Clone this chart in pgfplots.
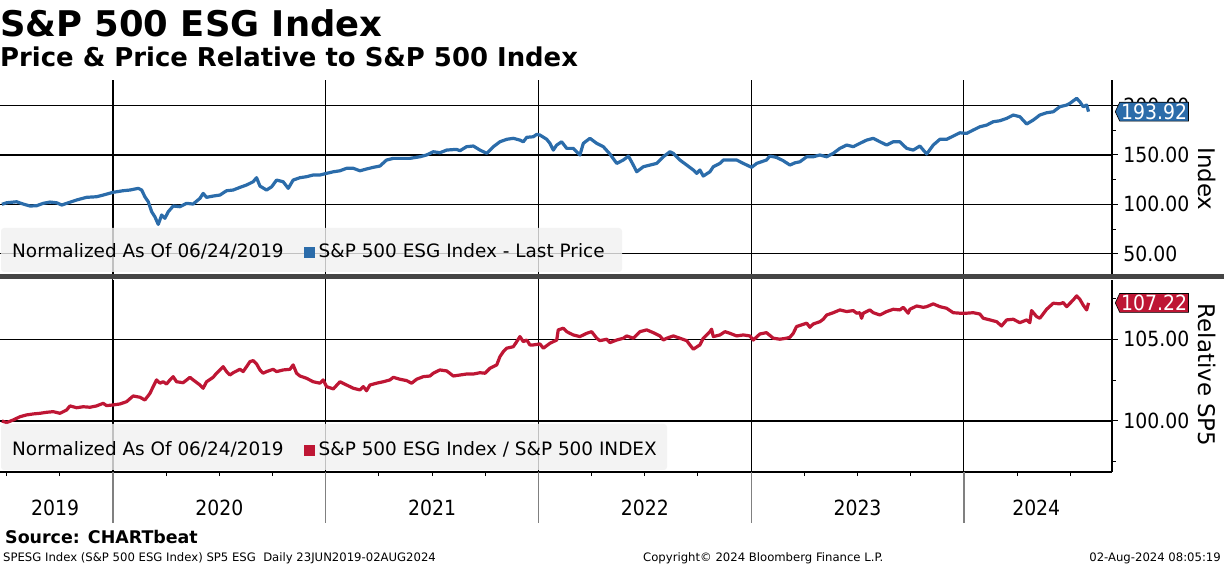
\documentclass[border=0pt]{standalone}
\usepackage{pgfplots}
\pgfplotsset{compat=1.18}
\usepackage{fontspec}
\setmainfont{DejaVu Sans}
\newfontfamily\condfont{DejaVu Sans Condensed}
\usetikzlibrary{shapes.symbols}

\definecolor{bbblue}{RGB}{43,108,170}
\definecolor{bbred}{RGB}{190,22,52}
\definecolor{legbg}{RGB}{240,240,240}

\pgfplotstableread{
t v
2019.478 100.0
2019.500 101.6
2019.547 102.6
2019.578 100.3
2019.610 98.3
2019.641 98.6
2019.672 101.0
2019.704 102.3
2019.735 101.6
2019.759 99.3
2019.782 101.0
2019.829 104.4
2019.876 107.1
2019.923 107.7
2019.954 109.4
2020.001 112.2
2020.048 113.8
2020.080 114.5
2020.119 116.2
2020.135 114.5
2020.150 107.7
2020.166 102.6
2020.182 92.5
2020.197 87.4
2020.213 79.7
2020.229 89.2
2020.244 85.8
2020.260 92.5
2020.283 98.3
2020.315 97.6
2020.346 101.0
2020.377 100.3
2020.409 106.1
2020.424 111.1
2020.440 107.1
2020.471 108.4
2020.503 109.4
2020.534 113.8
2020.565 114.5
2020.597 117.2
2020.628 119.6
2020.659 122.9
2020.675 127.0
2020.691 118.5
2020.722 114.5
2020.746 117.8
2020.769 124.6
2020.800 122.9
2020.824 116.2
2020.847 124.6
2020.879 127.0
2020.910 128.0
2020.941 129.7
2020.973 129.7
2021.004 131.4
2021.036 133.0
2021.067 134.0
2021.098 136.5
2021.130 136.5
2021.161 134.0
2021.192 135.8
2021.224 137.5
2021.255 138.8
2021.286 144.9
2021.318 146.6
2021.349 146.6
2021.396 146.6
2021.443 148.2
2021.474 150.0
2021.506 153.3
2021.537 152.3
2021.569 155.0
2021.615 155.7
2021.631 154.3
2021.662 158.4
2021.694 159.1
2021.725 155.0
2021.757 151.7
2021.788 158.4
2021.819 163.4
2021.851 165.9
2021.882 166.9
2021.913 165.1
2021.929 163.4
2021.945 167.9
2021.976 168.5
2021.992 170.9
2022.007 170.2
2022.039 165.9
2022.054 161.8
2022.070 155.0
2022.086 160.1
2022.109 163.4
2022.133 156.7
2022.164 156.7
2022.195 150.0
2022.211 161.8
2022.242 166.9
2022.274 161.8
2022.305 158.4
2022.336 151.0
2022.368 141.5
2022.399 144.9
2022.423 148.9
2022.446 139.8
2022.462 133.0
2022.493 138.1
2022.524 139.8
2022.556 141.5
2022.587 148.2
2022.618 153.3
2022.634 151.7
2022.665 144.9
2022.697 139.8
2022.728 134.8
2022.744 131.4
2022.759 134.8
2022.775 128.7
2022.806 133.0
2022.822 138.1
2022.853 141.5
2022.869 144.9
2022.900 144.9
2022.932 144.9
2022.963 141.5
2023.002 137.5
2023.026 141.5
2023.072 144.9
2023.088 148.9
2023.119 147.6
2023.151 144.2
2023.182 139.8
2023.206 142.1
2023.229 143.1
2023.261 148.2
2023.292 148.2
2023.323 150.0
2023.355 148.2
2023.386 151.7
2023.417 156.7
2023.449 160.1
2023.480 158.4
2023.511 161.8
2023.543 165.1
2023.574 166.9
2023.605 163.4
2023.637 160.1
2023.668 163.4
2023.699 163.4
2023.731 156.7
2023.762 155.0
2023.793 159.1
2023.825 151.0
2023.856 160.1
2023.887 165.9
2023.919 165.9
2023.950 169.2
2023.981 172.5
2024.013 171.9
2024.044 175.3
2024.075 178.6
2024.107 180.3
2024.138 183.7
2024.169 184.7
2024.201 187.1
2024.232 190.5
2024.263 188.8
2024.295 181.4
2024.326 185.4
2024.357 190.5
2024.389 192.8
2024.420 193.8
2024.451 198.9
2024.483 200.6
2024.498 202.3
2024.530 207.4
2024.545 204.0
2024.561 198.9
2024.577 200.6
2024.586 193.92
}\esgprice

\pgfplotstableread{
t v
2019.478 100.00
2019.500 99.90
2019.531 100.06
2019.563 100.26
2019.594 100.37
2019.625 100.43
2019.657 100.47
2019.688 100.53
2019.719 100.57
2019.751 100.47
2019.782 100.67
2019.798 100.92
2019.829 100.81
2019.860 100.87
2019.892 100.84
2019.923 100.92
2019.954 101.08
2019.970 100.94
2020.001 100.98
2020.033 101.04
2020.064 101.18
2020.095 101.53
2020.127 101.45
2020.150 101.28
2020.174 101.69
2020.189 102.10
2020.205 102.51
2020.221 102.31
2020.236 102.40
2020.252 102.26
2020.268 102.51
2020.283 102.71
2020.299 102.40
2020.330 102.34
2020.362 102.67
2020.377 102.51
2020.409 102.20
2020.424 102.00
2020.440 102.40
2020.471 102.67
2020.487 102.92
2020.503 103.12
2020.518 103.32
2020.534 103.02
2020.550 102.81
2020.565 102.95
2020.597 103.16
2020.612 103.02
2020.628 103.32
2020.644 103.63
2020.659 103.69
2020.675 103.49
2020.691 103.12
2020.706 102.92
2020.722 103.02
2020.753 103.16
2020.769 103.02
2020.800 103.12
2020.832 103.16
2020.847 103.43
2020.863 102.92
2020.879 102.75
2020.910 102.61
2020.941 102.40
2020.973 102.31
2020.988 102.51
2021.004 102.10
2021.036 101.96
2021.067 102.40
2021.098 102.20
2021.130 102.00
2021.161 101.90
2021.177 102.10
2021.192 101.85
2021.208 102.20
2021.239 102.31
2021.271 102.40
2021.302 102.51
2021.318 102.67
2021.349 102.55
2021.380 102.47
2021.404 102.31
2021.427 102.55
2021.459 102.71
2021.490 102.75
2021.506 102.92
2021.537 103.12
2021.569 103.06
2021.600 102.75
2021.631 102.81
2021.662 102.87
2021.694 102.87
2021.725 102.95
2021.749 102.92
2021.772 103.22
2021.804 103.43
2021.819 103.93
2021.835 104.24
2021.851 104.45
2021.882 104.54
2021.898 104.85
2021.913 105.16
2021.929 104.85
2021.945 104.95
2021.960 104.65
2021.976 104.65
2022.007 104.71
2022.023 104.45
2022.054 104.75
2022.086 104.95
2022.093 105.57
2022.117 105.67
2022.133 105.46
2022.148 105.36
2022.164 105.26
2022.195 105.16
2022.227 105.36
2022.250 105.46
2022.274 105.06
2022.289 104.91
2022.321 105.00
2022.336 104.79
2022.368 104.95
2022.399 105.06
2022.415 105.20
2022.446 105.06
2022.477 105.46
2022.509 105.57
2022.540 105.40
2022.571 105.20
2022.587 104.95
2022.603 105.06
2022.634 105.20
2022.665 105.06
2022.697 104.91
2022.712 104.65
2022.728 104.39
2022.759 104.65
2022.775 105.06
2022.806 105.46
2022.814 105.61
2022.822 105.16
2022.853 105.26
2022.877 105.46
2022.900 105.36
2022.932 105.20
2022.963 105.26
2022.994 105.20
2023.010 104.95
2023.041 105.32
2023.072 105.40
2023.104 105.06
2023.135 105.00
2023.166 105.06
2023.182 105.12
2023.198 105.36
2023.213 105.77
2023.229 105.84
2023.261 105.98
2023.276 105.73
2023.292 105.93
2023.323 106.07
2023.339 106.22
2023.355 106.48
2023.386 106.62
2023.417 106.79
2023.449 106.69
2023.480 106.75
2023.496 106.59
2023.511 106.62
2023.519 106.28
2023.527 106.59
2023.558 106.79
2023.574 106.62
2023.605 106.48
2023.637 106.69
2023.668 106.83
2023.699 106.79
2023.715 106.95
2023.738 106.59
2023.746 106.83
2023.778 107.03
2023.809 106.95
2023.825 106.99
2023.856 107.16
2023.887 106.99
2023.919 106.89
2023.950 106.62
2023.981 106.59
2024.013 106.59
2024.044 106.62
2024.075 106.54
2024.091 106.28
2024.122 106.18
2024.154 106.07
2024.177 105.81
2024.201 106.18
2024.232 106.22
2024.263 106.01
2024.295 106.18
2024.310 106.01
2024.318 106.75
2024.342 106.38
2024.357 106.28
2024.389 106.83
2024.420 107.20
2024.451 107.16
2024.467 107.24
2024.483 106.99
2024.514 107.40
2024.530 107.65
2024.545 107.44
2024.561 107.08
2024.577 106.79
2024.586 107.22
}\esgrel

\pgfplotsset{
  panel/.style={
    scale only axis, width=1112bp,
    xmin=2019.469, xmax=2024.696,
    axis y line*=right,
    axis x line*=bottom,
    axis line style={line width=1.3bp},
    tick align=outside,
    major tick length=6bp, minor tick length=4bp,
    every tick/.style={black, line width=1bp},
    ymajorgrids,
    major grid style={black, line width=1.1bp},
    yticklabel style={font=\condfont\fontsize{21}{25}\selectfont, xshift=2bp,
      /pgf/number format/.cd, fixed, fixed zerofill, precision=2, assume math mode=true},
    clip=false,
  },
  yearlines/.style={
    xtick={2020,2021,2022,2023,2024},
    xmajorgrids,
  },
}

\begin{document}
\begin{tikzpicture}
\useasboundingbox (0,0) rectangle (1224bp,566bp);

% titles
\node[anchor=base west, inner sep=0, font=\fontsize{35.5}{40}\selectfont\bfseries] at (0bp,529bp) {S\&P 500 ESG Index};
\node[anchor=base west, inner sep=0, font=\fontsize{26}{30}\selectfont\bfseries] at (0bp,499bp) {Price \& Price Relative to S\&P 500 Index};

% year lines of the top panel, under its curve
\foreach \xx in {113,325.7,538.4,751.2,963.9}
  \draw[black, line width=1.1bp] (\xx bp,291bp) -- (\xx bp,486bp);

% top panel (its bottom edge is hidden under the separator bar)
\begin{axis}[panel, yearlines,
  at={(0bp,291bp)}, anchor=south west, height=195bp,
  ymin=28.4, ymax=226,
  ytick={50,100,150,200}, minor ytick={75,125,175},
  xticklabels={},
  ]
\addplot[bbblue, line width=3.2bp, line join=round] table[x=t, y=v] {\esgprice};
\node[signal, signal to=west, signal pointer angle=130, fill=bbblue, draw=black, line width=0.6bp,
  text=white, font=\condfont\fontsize{21}{25}\selectfont, inner sep=1.5bp, anchor=west]
  at (axis cs:2024.696,193.92) [xshift=3bp] {193.92};
\end{axis}

% bottom panel
\begin{axis}[panel, yearlines,
  at={(0bp,94bp)}, anchor=south west, height=192bp,
  ymin=96.88, ymax=108.62,
  ytick={100,105}, minor ytick={97.5,102.5,107.5},
  xticklabels={},
  minor xtick={2019.5,2019.75,2020.25,2020.5,2020.75,2021.25,2021.5,2021.75,2022.25,2022.5,2022.75,2023.25,2023.5,2023.75,2024.25,2024.5},
  extra x ticks={2019.728,2020.5,2021.5,2022.5,2023.5,2024.34},
  extra x tick labels={2019,2020,2021,2022,2023,2024},
  extra x tick style={grid=none, major tick length=0pt,
    xticklabel style={font=\condfont\fontsize{21}{25}\selectfont, yshift=-24bp}},
  ]
\addplot[bbred, line width=3.2bp, line join=round] table[x=t, y=v] {\esgrel};
\node[signal, signal to=west, signal pointer angle=130, fill=bbred, draw=black, line width=0.6bp,
  text=white, font=\condfont\fontsize{21}{25}\selectfont, inner sep=1.5bp, anchor=west]
  at (axis cs:2024.696,107.22) [xshift=3bp] {107.22};
\end{axis}

% year separators below the axis
\foreach \xx in {113,325.7,538.4,751.2,963.9}
  \draw[black!50, line width=1.2bp] (\xx bp,94bp) -- (\xx bp,43bp);

% panel separator
\fill[black!73] (0bp,286.5bp) rectangle (1224bp,291.5bp);

% legend boxes
\fill[legbg, fill opacity=0.8, rounded corners=3bp] (1bp,294bp) rectangle (622bp,338bp);
\node[anchor=base west, inner sep=0, font=\fontsize{18.5}{22}\selectfont] at (12bp,308bp)
  {Normalized As Of 06/24/2019\hspace{20bp}{\color{bbblue}\rule{11bp}{11bp}}\hspace{4bp}S\&P 500 ESG Index - Last Price};
\fill[legbg, fill opacity=0.8, rounded corners=3bp] (1bp,96bp) rectangle (667bp,142bp);
\node[anchor=base west, inner sep=0, font=\fontsize{18.5}{22}\selectfont] at (12bp,110bp)
  {Normalized As Of 06/24/2019\hspace{20bp}{\color{bbred}\rule{11bp}{11bp}}\hspace{4bp}S\&P 500 ESG Index / S\&P 500 INDEX};

% axis names
\node[rotate=-90, font=\fontsize{23}{27}\selectfont] at (1207bp,387bp) {Index};
\node[rotate=-90, font=\fontsize{23}{27}\selectfont] at (1207bp,191bp) {Relative SP5};

% footer
\node[anchor=base west, inner sep=0, font=\fontsize{17.5}{20}\selectfont\bfseries] at (5bp,23bp) {Source: CHARTbeat};
\node[anchor=base west, inner sep=0, font=\fontsize{11.7}{14}\selectfont] at (3bp,5bp) {SPESG Index (S\&P 500 ESG Index) SP5 ESG\ \ Daily 23JUN2019-02AUG2024};
\node[anchor=base west, inner sep=0, font=\fontsize{11.7}{14}\selectfont] at (643bp,5bp) {Copyright© 2024 Bloomberg Finance L.P.};
\node[anchor=base east, inner sep=0, font=\fontsize{11.7}{14}\selectfont] at (1221bp,5bp) {02-Aug-2024 08:05:19};
\end{tikzpicture}
\end{document}
